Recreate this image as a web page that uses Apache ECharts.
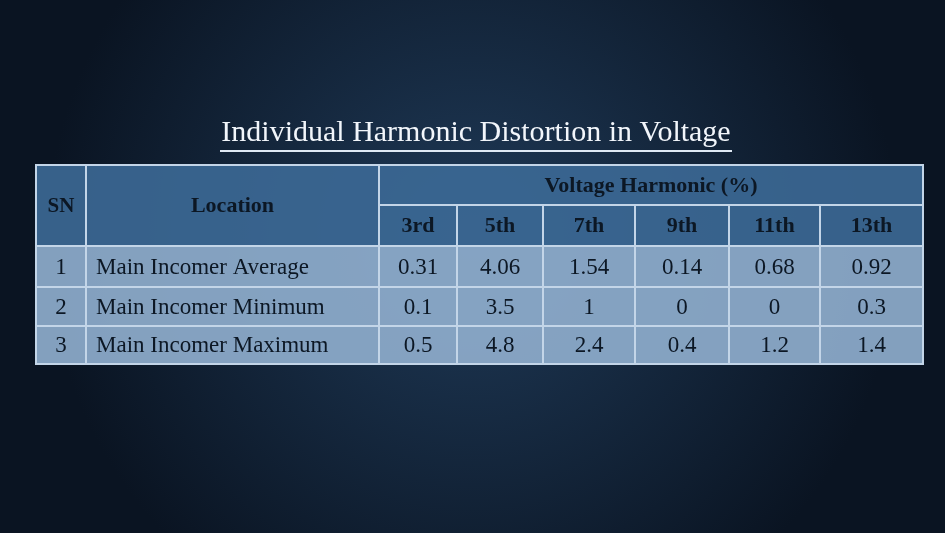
<!DOCTYPE html>
<html><head><meta charset="utf-8">
<script src="https://cdn.jsdelivr.net/npm/echarts@6/dist/echarts.min.js"></script>
<style>html,body{margin:0;padding:0;background:#0b1624}#c{width:945px;height:533px}</style>
</head><body><div id="c"></div>
<script>
const title = 'Individual Harmonic Distortion in Voltage';
const groupHeader = 'Voltage Harmonic (%)';
const harmonics = ['3rd','5th','7th','9th','11th','13th'];
const sn = ['1','2','3'];
const locations = ['Main Incomer Average','Main Incomer Minimum','Main Incomer Maximum'];
const h3 = ['0.31','0.1','0.5'];
const h5 = ['4.06','3.5','4.8'];
const h7 = ['1.54','1','2.4'];
const h9 = ['0.14','0','0.4'];
const h11 = ['0.68','0','1.2'];
const h13 = ['0.92','0.3','1.4'];
const cols = [h3,h5,h7,h9,h11,h13];

const colX = [36,86,379,457,543,635,729,820,923];
const rowY = [165,205,246,287,326,364];
const FONT = '"Liberation Serif","DejaVu Serif",serif';
const border = '#c3d5e8';
const headFill = 'rgba(60,105,150,0.9)';
const bodyFill = 'rgba(142,172,204,0.92)';
const g = [];
function cell(x0,x1,y0,y1,fill,text,opt){
  g.push({type:'rect',shape:{x:x0,y:y0,width:x1-x0,height:y1-y0},style:{fill:fill,stroke:border,lineWidth:2}});
  if(text!==undefined){
    const left = opt&&opt.left;
    g.push({type:'text',x:left?x0+10:(x0+x1)/2,y:(y0+y1)/2+1,style:{text:text,fill:opt&&opt.color||'#0c1724',font:(opt&&opt.bold?'bold ':'')+(opt&&opt.size||23)+'px '+FONT,textAlign:left?'left':'center',textVerticalAlign:'middle'}});
  }
}
cell(colX[0],colX[1],rowY[0],rowY[2],headFill,'SN',{bold:true,size:21});
cell(colX[1],colX[2],rowY[0],rowY[2],headFill,'Location',{bold:true,size:22});
cell(colX[2],colX[8],rowY[0],rowY[1],headFill,groupHeader,{bold:true,size:22});
harmonics.forEach((h,i)=>cell(colX[2+i],colX[3+i],rowY[1],rowY[2],headFill,h,{bold:true,size:22}));
for(let r=0;r<sn.length;r++){
  const y0=rowY[2+r],y1=rowY[3+r];
  cell(colX[0],colX[1],y0,y1,bodyFill,sn[r]);
  cell(colX[1],colX[2],y0,y1,bodyFill,locations[r],{left:true});
  cols.forEach((c,i)=>cell(colX[2+i],colX[3+i],y0,y1,bodyFill,c[r]));
}
g.push({type:'text',x:476,y:133,style:{text:title,fill:'#f2f6fb',font:'30px '+FONT,textAlign:'center',textVerticalAlign:'middle'}});
g.push({type:'line',shape:{x1:220,y1:151,x2:732,y2:151},style:{stroke:'#dfe9f4',lineWidth:2}});

const chart = echarts.init(document.getElementById('c'));
chart.setOption({
  backgroundColor:{type:'radial',x:0.5,y:0.45,r:0.8,colorStops:[{offset:0,color:'#1f3a58'},{offset:1,color:'#0a1422'}]},
  graphic:g
});
</script></body></html>
